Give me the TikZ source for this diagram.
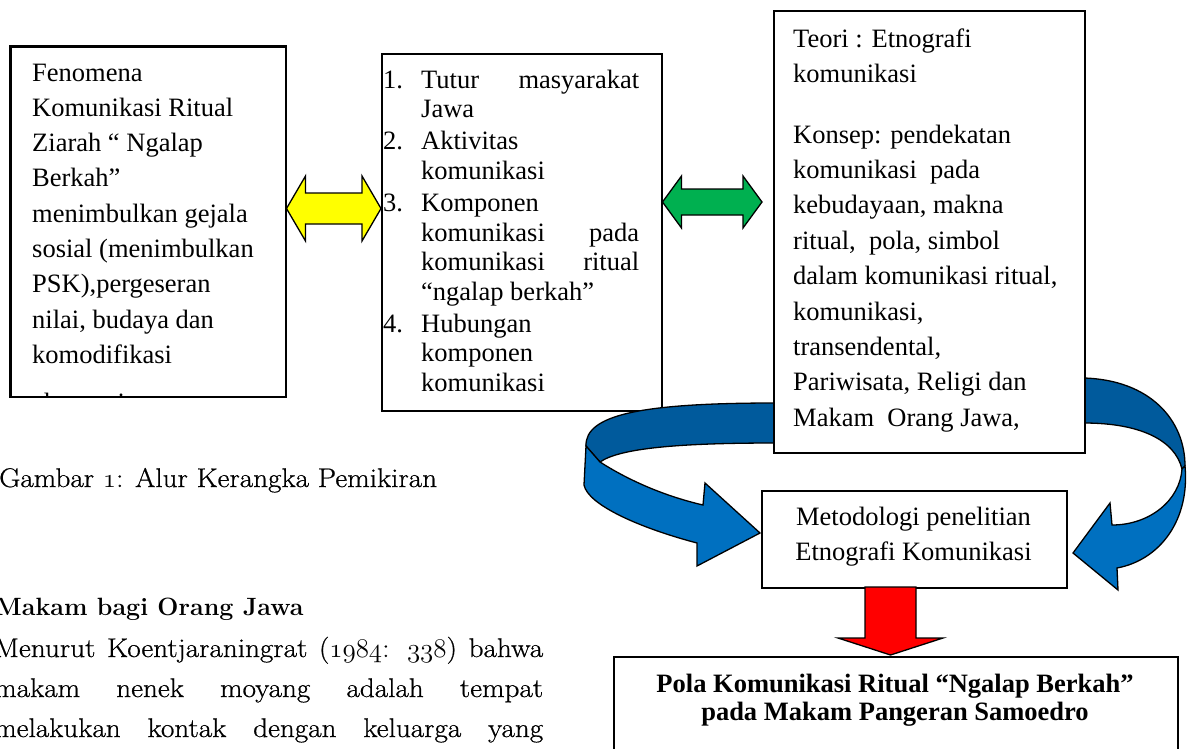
\documentclass[tikz,border=0pt]{standalone}
\usepackage{fix-cm}
\usepackage{fontspec}
\setmainfont{Liberation Serif}
\newfontfamily\lmfont[FakeBold=0.7,FakeStretch=1.08]{Latin Modern Roman}
\newfontfamily\lmhead{Latin Modern Roman}
\usetikzlibrary{calc}
\definecolor{yel}{RGB}{255,255,0}
\definecolor{grn}{RGB}{0,176,80}
\definecolor{bdark}{RGB}{0,90,156}
\definecolor{blight}{RGB}{0,112,192}
\definecolor{rd}{RGB}{255,0,0}
\newcommand\itm[1]{\makebox[38pt][l]{#1}}
\newcommand\jst[2]{\hbox to 218pt{#1\hfill #2}}
\tikzset{
  box/.style={draw=black, line width=1.5pt, fill=white, inner sep=0pt, anchor=north west},
  blockarrow/.style={draw=black, line width=1.3pt, line join=miter},
  txt/.style={anchor=base west, inner sep=0pt},
  ctxt/.style={anchor=base, inner sep=0pt},
  lmtext/.style={font=\lmfont\fontsize{27}{33}\selectfont},
}
\begin{document}
\begin{tikzpicture}[x=1pt,y=-1pt]
\useasboundingbox (0,0) rectangle (1187,748);
\clip (0,0) rectangle (1187,748);

% box 1
\node[box, minimum width=275pt, minimum height=350pt] (b1) at (10,46) {};
\begin{scope}
\clip (b1.south west) rectangle (b1.north east);
\node[txt] (t1) at (32,81) {\begin{minipage}[t]{250pt}\fontsize{26.5}{35.3}\selectfont
Fenomena\\
Komunikasi Ritual\\
Ziarah “ Ngalap\\
Berkah”\\
menimbulkan gejala\\
sosial (menimbulkan\\
PSK),pergeseran\\
nilai, budaya dan\\
komodifikasi\\[12.5pt]
ekonomi\end{minipage}};
\end{scope}
\draw[line width=1.5pt] (b1.south west) rectangle (b1.north east);

% box 2
\node[box, minimum width=280pt, minimum height=357pt] (b2) at (381,53) {};
\node[txt] (t2) at (383,88) {\begin{minipage}[t]{260pt}\fontsize{26.5}{29.6}\selectfont
\itm{1.}\jst{Tutur}{masyarakat}\\
\itm{}Jawa\\[2.5pt]
\itm{2.}Aktivitas\\
\itm{}komunikasi\\[2.5pt]
\itm{3.}Komponen\\
\itm{}\jst{komunikasi}{pada}\\
\itm{}\jst{komunikasi}{ritual}\\
\itm{}“ngalap berkah”\\[2.5pt]
\itm{4.}Hubungan\\
\itm{}komponen\\
\itm{}komunikasi\end{minipage}};

% yellow double arrow
\coordinate (yL) at (b1.east |- 0,208.5);
\coordinate (yR) at (b2.west |- 0,208.5);
\draw[blockarrow, fill=yel] (yL) -- ($(yL)+(19,-32.5)$) -- ($(yL)+(19,-15.5)$)
  -- ($(yR)+(-19,-15.5)$) -- ($(yR)+(-19,-32.5)$) -- (yR)
  -- ($(yR)+(-19,32.5)$) -- ($(yR)+(-19,15.5)$)
  -- ($(yL)+(19,15.5)$) -- ($(yL)+(19,32.5)$) -- cycle;

% green double arrow
\coordinate (gL) at (b2.east |- 0,202);
\coordinate (gR) at (762,202);
\draw[blockarrow, fill=grn] (gL) -- ($(gL)+(19,-26)$) -- ($(gL)+(19,-13)$)
  -- ($(gR)+(-19,-13)$) -- ($(gR)+(-19,-26)$) -- (gR)
  -- ($(gR)+(-19,26)$) -- ($(gR)+(-19,13)$)
  -- ($(gL)+(19,13)$) -- ($(gL)+(19,26)$) -- cycle;

% left curved blue arrow
\draw[blockarrow, fill=bdark] (790,403) -- (775,403) .. controls (640,403) and (585,415) .. (586,446)
  -- (600,462) .. controls (620,448) and (680,443) .. (775,443) -- (790,443) -- cycle;
\draw[blockarrow, fill=blight] (586,446) -- (584,485) .. controls (588,505) and (640,528) .. (697,543)
  -- (697,566) -- (760,533) -- (705,483) -- (703,505)
  .. controls (660,495) and (625,478) .. (600,462) -- cycle;

% right curved blue arrow
\draw[blockarrow, fill=bdark] (1070,378) -- (1084,378) .. controls (1150,380) and (1185,420) .. (1185,466)
  -- (1182,469) .. controls (1175,440) and (1140,423) .. (1084,423) -- (1070,423) -- cycle;
\draw[blockarrow, fill=blight] (1185,466) .. controls (1190,520) and (1160,560) .. (1117,568)
  -- (1118,590) -- (1073,553) -- (1110,503) -- (1112,525)
  .. controls (1150,525) and (1180,500) .. (1182,469) -- cycle;

% box 3
\node[box, minimum width=311pt, minimum height=442pt] (b3) at (773,10) {};
\node[txt] (t3) at (793,47) {\begin{minipage}[t]{285pt}\fontsize{26.5}{35.4}\selectfont
Teori : Etnografi\\
komunikasi\\[25.2pt]
Konsep: pendekatan\\
komunikasi\ \ pada\\
kebudayaan, makna\\
ritual,\ \ pola, simbol\\
dalam komunikasi ritual,\\
komunikasi,\\
transendental,\\
Pariwisata, Religi dan\\
Makam\ \ Orang Jawa,\end{minipage}};

% box 4
\node[box, minimum width=305pt, minimum height=97pt] (b4) at (761,490) {};
\node[ctxt] (t4) at (913.5,525) {\begin{minipage}[t]{300pt}\centering\fontsize{26.5}{35}\selectfont
Metodologi penelitian\\
Etnografi Komunikasi\end{minipage}};

% red arrow
\coordinate (rt) at (890.5,655);
\draw[blockarrow, fill=rd] (865,587) -- (865,638) -- (838,638) -- (rt) -- (943,638)
  -- (916,638) -- (916,587) -- cycle;

% box 5
\node[box, minimum width=564pt, minimum height=120pt] (b5) at (613,656) {};
\node[ctxt] (t5) at (895,692) {\begin{minipage}[t]{560pt}\centering\fontsize{26.5}{28}\selectfont\bfseries
Pola Komunikasi Ritual “Ngalap Berkah”\\
pada Makam Pangeran Samoedro\end{minipage}};

% text at bottom left
\node[txt, lmtext] (cap) at (-1,487) {Gambar $\mathnormal{1}$: Alur Kerangka Pemikiran};
\node[txt, font=\lmhead\bfseries\fontsize{25}{30}\selectfont] (hd) at (-5,615) {Makam bagi Orang Jawa};
\node[txt, lmtext] (p1) at (-6,657) {\makebox[549pt][s]{Menurut Koentjaraningrat ($\mathnormal{1984}$: $\mathnormal{338}$) bahwa}};
\node[txt, lmtext] (p2) at (-6,697) {\makebox[549pt][s]{makam nenek moyang adalah tempat}};
\node[txt, lmtext] (p3) at (-6,737) {\makebox[549pt][s]{melakukan kontak dengan keluarga yang}};
\end{tikzpicture}
\end{document}
